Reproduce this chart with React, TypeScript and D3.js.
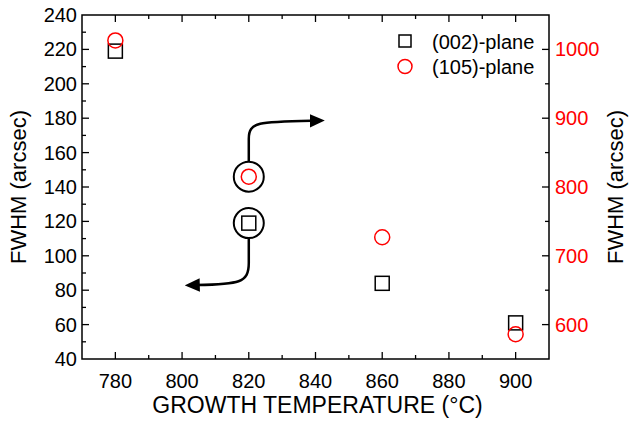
import { useEffect, useRef } from 'react';
import * as d3 from 'd3';

const TEMPS = [780, 820, 860, 900];
const FWHM_002 = [219, 119, 84, 61];
const FWHM_105 = [1013, 815, 727, 586];
const X_TICKS = [780, 800, 820, 840, 860, 880, 900];
const YL_TICKS = [40, 60, 80, 100, 120, 140, 160, 180, 200, 220, 240];
const YR_TICKS = [600, 700, 800, 900, 1000];

const W = 629, H = 421;
const M = { top: 15, right: 80, bottom: 62, left: 82 };
const FONT = 'Liberation Sans, Arial, sans-serif';

export default function App() {
  const ref = useRef<SVGSVGElement>(null);
  useEffect(() => {
    const svg = d3.select(ref.current); svg.selectAll('*').remove();
    const x = d3.scaleLinear().domain([770, 910]).range([M.left, W - M.right]);
    const yl = d3.scaleLinear().domain([40, 240]).range([H - M.bottom, M.top]);
    const yr = d3.scaleLinear().domain([550, 1050]).range([H - M.bottom, M.top]);
    const x0 = M.left, x1 = W - M.right, y0 = H - M.bottom, y1 = M.top;

    svg.append('defs').append('marker').attr('id', 'ah').attr('viewBox', '0 0 10 10')
      .attr('refX', 2).attr('refY', 5).attr('markerWidth', 6).attr('markerHeight', 6)
      .attr('orient', 'auto').attr('markerUnits', 'strokeWidth')
      .append('path').attr('d', 'M0,0.5 L10,5 L0,9.5 Z').attr('fill', '#000');

    svg.append('rect').attr('x', x0).attr('y', y1).attr('width', x1 - x0).attr('height', y0 - y1)
      .attr('fill', 'none').attr('stroke', '#000').attr('stroke-width', 1.5);

    const tick = (x1_: number, y1_: number, x2_: number, y2_: number) =>
      svg.append('line').attr('x1', x1_).attr('y1', y1_).attr('x2', x2_).attr('y2', y2_)
        .attr('stroke', '#000').attr('stroke-width', 1.3);

    d3.range(780, 901, 10).forEach(v => {
      const L = v % 20 === 0 ? 7 : 4;
      tick(x(v), y0, x(v), y0 - L); tick(x(v), y1, x(v), y1 + L);
    });
    d3.range(50, 240, 10).forEach(v => {
      const L = v % 20 === 0 ? 7 : 4;
      tick(x0, yl(v), x0 + L, yl(v));
    });
    d3.range(600, 1050, 50).forEach(v => {
      const L = v % 100 === 0 ? 7 : 4;
      tick(x1, yr(v), x1 - L, yr(v));
    });

    svg.append('g').selectAll('text').data(X_TICKS).join('text')
      .attr('x', d => x(d)).attr('y', y0 + 29).attr('text-anchor', 'middle')
      .attr('font-family', FONT).attr('font-size', 20).text(d => d);
    svg.append('g').selectAll('text').data(YL_TICKS).join('text')
      .attr('x', x0 - 5).attr('y', d => yl(d) + 7).attr('text-anchor', 'end')
      .attr('font-family', FONT).attr('font-size', 20).text(d => d);
    svg.append('g').selectAll('text').data(YR_TICKS).join('text')
      .attr('x', x1 + 6).attr('y', d => yr(d) + 7).attr('text-anchor', 'start')
      .attr('font-family', FONT).attr('font-size', 20).attr('fill', '#ff0000').text(d => d);

    svg.append('text').attr('x', (x0 + x1) / 2 + 2).attr('y', 413).attr('text-anchor', 'middle')
      .attr('font-family', FONT).attr('font-size', 23).text('GROWTH TEMPERATURE (°C)');
    svg.append('text').attr('transform', `translate(26,${(y0 + y1) / 2}) rotate(-90)`)
      .attr('text-anchor', 'middle').attr('font-family', FONT).attr('font-size', 22).text('FWHM (arcsec)');
    svg.append('text').attr('transform', `translate(623,${(y0 + y1) / 2}) rotate(-90)`)
      .attr('text-anchor', 'middle').attr('font-family', FONT).attr('font-size', 22).text('FWHM (arcsec)');

    // highlight circles + arrows at 820
    const cx = x(820);
    const cu = yr(FWHM_105[1]), cl = yl(FWHM_002[1]);
    svg.append('circle').attr('cx', cx).attr('cy', cu).attr('r', 15).attr('fill', 'none')
      .attr('stroke', '#000').attr('stroke-width', 2);
    svg.append('circle').attr('cx', cx).attr('cy', cl).attr('r', 15).attr('fill', 'none')
      .attr('stroke', '#000').attr('stroke-width', 2);
    const up = d3.path();
    up.moveTo(cx, cu - 15); up.lineTo(cx, cu - 38);
    up.bezierCurveTo(cx, cu - 55, cx + 10, cu - 55, cx + 64, cu - 56);
    svg.append('path').attr('d', up.toString()).attr('fill', 'none').attr('stroke', '#000')
      .attr('stroke-width', 2.5).attr('marker-end', 'url(#ah)');
    const dn = d3.path();
    dn.moveTo(cx, cl + 15); dn.lineTo(cx, cl + 40);
    dn.bezierCurveTo(cx, cl + 60, cx - 10, cl + 61, cx - 52, cl + 62);
    svg.append('path').attr('d', dn.toString()).attr('fill', 'none').attr('stroke', '#000')
      .attr('stroke-width', 2.5).attr('marker-end', 'url(#ah)');

    svg.append('g').selectAll('rect').data(TEMPS).join('rect')
      .attr('x', (d) => x(d) - 7).attr('y', (_, i) => yl(FWHM_002[i]) - 7)
      .attr('width', 14).attr('height', 14).attr('fill', 'none').attr('stroke', '#000').attr('stroke-width', 1.5);
    svg.append('g').selectAll('circle').data(TEMPS).join('circle')
      .attr('cx', d => x(d)).attr('cy', (_, i) => yr(FWHM_105[i])).attr('r', 7.5)
      .attr('fill', 'none').attr('stroke', '#ff0000').attr('stroke-width', 1.5);

    // legend
    svg.append('rect').attr('x', 399).attr('y', 35).attr('width', 12).attr('height', 12)
      .attr('fill', 'none').attr('stroke', '#000').attr('stroke-width', 1.5);
    svg.append('circle').attr('cx', 405).attr('cy', 66.5).attr('r', 7)
      .attr('fill', 'none').attr('stroke', '#ff0000').attr('stroke-width', 1.5);
    svg.append('text').attr('x', 432).attr('y', 48.5).attr('font-family', FONT).attr('font-size', 20).text('(002)-plane');
    svg.append('text').attr('x', 432).attr('y', 73.5).attr('font-family', FONT).attr('font-size', 20).text('(105)-plane');
  }, []);
  return <svg ref={ref} width={W} height={H} style={{ position: 'absolute', left: 0, top: 0 }} />;
}
